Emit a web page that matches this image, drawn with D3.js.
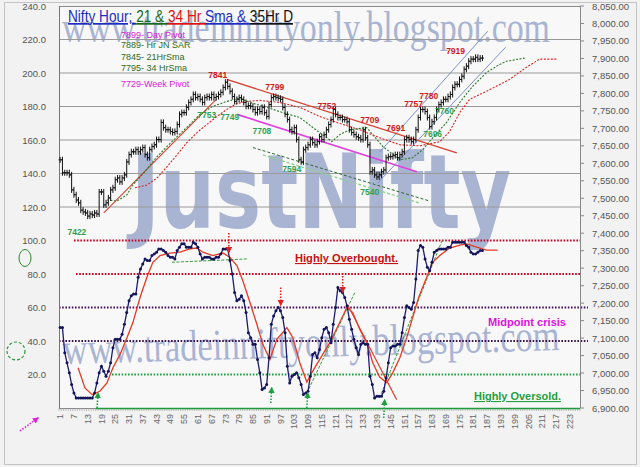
<!DOCTYPE html>
<html>
<head>
<meta charset="utf-8">
<style>
  body { margin: 0; background: #fff; }
  text { font-family: Arial, "Liberation Sans", sans-serif; }
</style>
</head>
<body>
<svg width="640" height="467"></svg>
<script src="https://d3js.org/d3.v7.min.js"></script>
<script>

// hourly closes, bar 1..185
var closes = [
  7610,7573,7573,7573,7567,7524,7510,7495,7487,7466,7461,7458,7449,7455,7452,7458,7455,7518,7518,7481,
  7487,7501,7524,7530,7553,7558,7547,7558,7567,7604,7625,7633,7633,7639,7633,7639,7645,7625,7616,7639,
  7648,7653,7668,7668,
  7717,7702,7696,7696,7691,7688,7691,7711,7740,7745,7745,7760,7774,7783,7797,7788,7791,7783,7774,7788,
  7791,7788,7797,7788,7791,7797,7803,7817,7832,7820,7806,7791,7777,7783,7788,7783,7774,7763,7765,7763,
  7754,7745,7754,7748,
  7760,7745,7734,7768,7788,7791,7788,7786,7783,7760,7740,7725,7696,7691,7702,7668,7610,7604,7639,7645,
  7653,7668,7659,7653,7662,7676,7668,7682,7696,7711,7725,7754,7740,7731,7731,7725,7725,7719,7696,7688,
  7682,7676,7673,7668,
  7696,7673,7653,7576,7581,7567,7561,7567,7576,7581,7616,7619,7619,7622,7625,7616,7625,7633,7668,7673,
  7668,7662,7668,7696,7731,7754,7754,7748,7731,7705,7719,7731,7754,7768,
  7774,7783,7783,7791,7797,7817,7826,7826,7840,7849,7869,7878,7892,7898,7898,7903,7898,7901,7901
];

// 21 hr sma (shifted) and 34 hr sma, [bar, price]
var sma21 = [
  [21.4,7495],[25.8,7492],[30.1,7510],[32.7,7538],[37.9,7576],[43.2,7619],[47.5,7648],[51.9,7676],
  [57.5,7711],[61.9,7740],[67.5,7763],[73.6,7777],[79.2,7786],[83.7,7774],[91.1,7760],[98,7745],
  [105.4,7731],[112.4,7696],[119.4,7662],[122.8,7682],[127.2,7696],[134.6,7702],[141.6,7648],
  [149,7610],[154.6,7616],[159,7639],[163.3,7673],[169.4,7717],[175.1,7774],[180.7,7820],
  [186.8,7860],[192.5,7883],[195.5,7892],[203.4,7901]
];
var sma34 = [
  [33.6,7530],[38.8,7538],[43.2,7558],[47.5,7590],[51.9,7624],[56.2,7659],[60.6,7688],[64.9,7711],
  [69.3,7734],[73.6,7754],[78,7771],[82.3,7777],[88,7780],[96.7,7774],[105.4,7760],[114.1,7734],
  [122.8,7714],[131.5,7696],[140.2,7673],[149,7653],[157.7,7650],[166.4,7662],[170.7,7691],
  [175.1,7745],[179.4,7783],[186.8,7806],[196.8,7840],[204.2,7875],[209.9,7898],[217.3,7898]
];

// oscillator (left axis) [bar, value]
var osc = [
  [1,48],[2,48],[3,33],[4,27],[5,21],[6,14],[7,9],[8,6],[9,6],[10,6],[11,6],[12,6],[13,6],[14,6],[15,6],
  [16,9],[17,15],[18,21],[19,25],[20,22],[21,19],[22,22],[23,27],[24,36],[25,41],[26,41],[27,41],[28,44],
  [29,50],[30,57],[31,64],[32,67],[33,68],[34,68],[35,78],[36,83],[37,86],[38,89],[39,88],[40,88],
  [41,91],[42,92],[43,93],[44,95],[45,95],[46,94],[47,93],[48,91],[49,90],[50,90],[51,89],[52,94],
  [53,96],[54,98],[55,98],[56,96],[57,96],[58,96],[59,99],[60,98],[61,96],[62,92],[63,89],[64,90],
  [65,90],[66,90],[67,89],[68,89],[69,90],[70,90],[71,92],[72,95],[73,95],[74,95],[75,88],[76,80],
  [77,69],[78,64],[79,65],[80,67],[81,64],[82,57],[83,45],[84,42],[85,38],[86,38],[87,29],[88,21],
  [89,11],[90,12],[91,14],[92,30],[93,50],[94,55],[95,58],[96,60],[97,58],[98,54],[99,45],[100,25],
  [101,15],[102,19],[103,20],[104,21],[105,18],[106,14],[107,8],[108,9],[109,10],[110,19],[111,32],
  [112,33],[113,30],[114,35],[115,42],[116,47],[117,48],[118,45],[119,39],[120,50],[121,60],[122,72],
  [123,70],[124,69],[125,66],[126,61],[127,53],[128,47],[129,41],[130,36],[131,32],[132,38],[133,39],
  [134,38],[135,38],[136,19],[137,14],[138,6],[139,7],[140,7],[141,7],[142,10],[143,18],[144,27],
  [145,36],[146,37],[147,37],[148,38],[149,38],[150,45],[151,54],[152,61],[153,60],[154,59],[155,63],
  [156,77],[157,94],[158,97],[159,96],[160,89],[161,84],[162,82],[163,87],[164,93],[165,94],[166,95],
  [167,95],[168,95],[169,95],[170,96],[171,96],[172,99],[173,99],[174,99],[175,99],[176,99],[177,99],
  [178,97],[179,96],[180,93],[181,92],[182,92],[183,93],[184,94],[185,94]
];
var oscSmooth = [
  [8.8,24],[11.8,12],[14.9,8],[18.3,10],[21.4,15],[24,24],[27.1,32],[30.1,42],[32.7,51],[35.8,66],
  [38.8,78],[41.4,87],[44.5,91],[48.8,92.5],[53.2,93],[57.5,95],[60.6,95.5],[63.2,93],[67.5,91],
  [71.9,92.5],[74.9,90],[78,85],[80.6,76],[83.7,63],[86.7,50],[89.3,38],[92.4,29],[95.4,41],[99.8,48],
  [102.4,42],[105.4,27],[108.5,15.5],[110.6,21],[114.1,29],[118.5,39],[122.8,51],[125.9,60],[128.5,57],
  [131.5,47],[134.6,39],[137.2,27],[140.2,18.5],[143.3,15],[145.9,21],[149,30],[152,42],[154.6,54],
  [157.2,66],[160.7,78],[163.3,87],[166.4,91],[170.7,95.5],[175.1,97.3],[178.1,98],[182.5,96],
  [186.8,94.3],[191.6,94.3]
];

// drawn trend lines, price pane [bar, price]
var trendRise = [[20,7458],[69,7783]];
var trendFall = [[73.6,7840],[173.8,7630]];
var weekPivotLine = [[78,7740],[156.4,7576]];
var greenChanA = [[85,7645],[162,7492]];
var greenChanB = [[89.3,7624],[157.7,7486]];
var blueChanA = [[140.3,7633],[187.3,7978]];
var blueChanB = [[139.4,7544],[195.1,7932]];

// drawn lines, oscillator pane [bar, value]
var oscFlat = [[49.7,87],[82.3,89]];
var oscRiseA = [[108.5,9],[129.4,69]];
var oscRiseB = [[140.2,6],[167.7,101]];
var oscFall = [[126.3,61.5],[147.6,5]];

var highLabels = [["7841",69.7,7843],["7799",94.5,7811],["7752",117.2,7754],["7709",135.9,7716],
  ["7691",147.2,7691],["7757",155,7762],["7780",161.6,7783],["7919",173.3,7912]];
var lowLabels = [["7422",8.3,7394],["7753",64.9,7731],["7749",74.9,7725],["7708",88.9,7685],
  ["7594",101.9,7576],["7540",135.9,7510],["7696",163.3,7676],["7760",168.5,7740]];

var downArrows = [[74.5,104.5,93],[97.1,72,61.5],[124.1,80.6,69.3]];
var upArrows = [[17.5,0,9],[93.2,3,12],[108.9,0,9],[142.4,-6,4.8]];

var levels = [100, 80, 60, 40, 20];
var leftTicks = [20,40,60,80,100,120,140,160,180,200,220,240];
var gridTicks = [120,140,160,180,200,220];
var rightTicks = [6900,6950,7000,7050,7100,7150,7200,7250,7300,7350,7400,7450,7500,7550,7600,
  7650,7700,7750,7800,7850,7900,7950,8000,8050];
var xTicks = [1,7,13,19,25,31,37,43,49,55,61,67,73,79,85,91,97,103,109,115,121,127,133,139,145,
  151,157,163,169,175,181,187,193,199,205,211,217,223];

var svg = d3.select("svg");

var x = d3.scaleLinear().domain([0.5, 227.5]).range([59, 580]);
var yL = d3.scaleLinear().domain([0, 240]).range([408, 6]);
var yR = d3.scaleLinear().domain([6900, 8050]).range([408, 6]);

// background
svg.append("rect").attr("width", 640).attr("height", 467).attr("fill", "#f2f2f2");
svg.append("rect").attr("x", 4.5).attr("y", 2.5).attr("width", 632).attr("height", 462)
    .attr("fill", "none").attr("stroke", "#c4c4c4");
svg.append("rect").attr("x", 59).attr("y", 6).attr("width", 521).attr("height", 402).attr("fill", "#f8f8f8");

// watermarks
svg.append("text").attr("x", 62).attr("y", 42)
    .style("font-family", "'Liberation Serif', 'DejaVu Serif', serif")
    .attr("font-size", 44).attr("fill", "#a9b4d2")
    .attr("textLength", 488).attr("lengthAdjust", "spacingAndGlyphs")
    .text("www.tradeinniftyonly.blogspot.com");
svg.append("text").attr("x", 131).attr("y", 228)
    .style("font-family", "'DejaVu Sans', sans-serif")
    .attr("font-size", 104).attr("font-weight", "bold").attr("fill", "#a9b4d2")
    .attr("textLength", 380).attr("lengthAdjust", "spacingAndGlyphs")
    .text("JustNifty");
svg.append("text").attr("transform", "translate(63,364) rotate(-1.6)")
    .style("font-family", "'Liberation Serif', 'DejaVu Serif', serif")
    .attr("font-size", 44).attr("fill", "#a9b4d2")
    .attr("textLength", 497).attr("lengthAdjust", "spacingAndGlyphs")
    .text("www.tradeinniftyonly.blogspot.com");

// gridlines
svg.append("g").selectAll("line").data(gridTicks).join("line")
    .attr("x1", 59).attr("x2", 580)
    .attr("y1", function(d) { return yL(d); }).attr("y2", function(d) { return yL(d); })
    .attr("stroke", "#9a9a9a").attr("stroke-width", 1);
svg.append("line").attr("x1", 59).attr("x2", 580).attr("y1", 6.5).attr("y2", 6.5).attr("stroke", "#8a8a8a");

// oscillator level lines
var levelStyle = {
  100: {c: "#c8001a", x1: 74, x2: 580},
  80:  {c: "#c8001a", x1: 76, x2: 580},
  60:  {c: "#4a1060", x1: 59, x2: 588},
  40:  {c: "#3a1050", x1: 59, x2: 588},
  20:  {c: "#22a040", x1: 112, x2: 580}
};
svg.append("g").selectAll("line").data(levels).join("line")
    .attr("x1", function(d) { return levelStyle[d].x1; })
    .attr("x2", function(d) { return levelStyle[d].x2; })
    .attr("y1", function(d) { return yL(d); }).attr("y2", function(d) { return yL(d); })
    .attr("stroke", function(d) { return levelStyle[d].c; })
    .attr("stroke-width", 1.8).attr("stroke-dasharray", "1.6,1.6");

// axes
svg.append("line").attr("x1", 59.5).attr("x2", 59.5).attr("y1", 6).attr("y2", 408).attr("stroke", "#777");
svg.append("line").attr("x1", 580.5).attr("x2", 580.5).attr("y1", 6).attr("y2", 408).attr("stroke", "#888");

svg.append("g").selectAll("text").data(leftTicks).join("text")
    .attr("x", 46).attr("y", function(d) { return yL(d) + 3.5; })
    .attr("text-anchor", "end").attr("font-size", 9.5).attr("fill", "#555")
    .text(function(d) { return d3.format(".1f")(d); });

var rAxis = svg.append("g");
rAxis.selectAll("line").data(rightTicks).join("line")
    .attr("x1", 580).attr("x2", 584)
    .attr("y1", function(d) { return yR(d); }).attr("y2", function(d) { return yR(d); })
    .attr("stroke", "#888");
rAxis.selectAll("text").data(rightTicks).join("text")
    .attr("x", 592).attr("y", function(d) { return yR(d) + 3.5; })
    .attr("font-size", 9.5).attr("fill", "#555")
    .text(function(d) { return d3.format(",.2f")(d); });

// x axis: ticks every bar, label every 6
svg.append("line").attr("x1", 59).attr("x2", 580).attr("y1", 408.5).attr("y2", 408.5).attr("stroke", "#888");
svg.append("g").selectAll("line").data(d3.range(0.5, 228, 1)).join("line")
    .attr("x1", function(d) { return x(d); }).attr("x2", function(d) { return x(d); })
    .attr("y1", 408).attr("y2", 411).attr("stroke", "#999").attr("stroke-width", 0.6);
svg.append("line").attr("x1", x(16.5)).attr("x2", 580).attr("y1", 408.5).attr("y2", 408.5)
    .attr("stroke", "#1e9a3a").attr("stroke-width", 1.6);
svg.append("g").selectAll("text").data(xTicks).join("text")
    .attr("transform", function(d) { return "translate(" + x(d) + ",414) rotate(-90)"; })
    .attr("dy", "0.35em").attr("text-anchor", "end")
    .attr("font-size", 9).attr("fill", "#666")
    .text(function(d) { return d; });

// trend lines, price pane
var pline = d3.line().x(function(d) { return x(d[0]); }).y(function(d) { return yR(d[1]); });
var oline = d3.line().x(function(d) { return x(d[0]); }).y(function(d) { return yL(d[1]); });

function draw(gen, data, color, width, dash) {
  svg.append("path").datum(data).attr("d", gen)
      .attr("fill", "none").attr("stroke", color).attr("stroke-width", width)
      .attr("stroke-dasharray", dash || null);
}

draw(pline, greenChanA, "#2d6a2d", 1, "3,2");
draw(pline, greenChanB, "#8fd08f", 1.4, "3,2");
draw(pline, weekPivotLine, "#e040e0", 1.6);
draw(pline, blueChanA, "#7a90c8", 1);
draw(pline, blueChanB, "#7a90c8", 1);
draw(pline, trendRise, "#d84030", 1.1);
draw(pline, trendFall, "#d84030", 1.3);
draw(pline, sma34, "#e02020", 1.1, "2,1.5");
draw(pline, sma21, "#2a7a2a", 1.1, "2,1.5");

// price bars (open = previous close)
var bars = svg.append("g").attr("stroke", "#111").attr("stroke-width", 1);
bars.selectAll("g").data(closes).join("g").each(function(c, i) {
  var o = i ? closes[i - 1] : c;
  var cx = x(i + 1);
  var s = d3.select(this);
  s.append("line").attr("x1", cx).attr("x2", cx)
      .attr("y1", yR(Math.max(o, c)) - 3).attr("y2", yR(Math.min(o, c)) + 3);
  s.append("line").attr("x1", cx - 1.6).attr("x2", cx).attr("y1", yR(o)).attr("y2", yR(o));
  s.append("line").attr("x1", cx).attr("x2", cx + 1.6).attr("y1", yR(c)).attr("y2", yR(c));
});

// price labels
svg.append("g").selectAll("text").data(highLabels).join("text")
    .attr("x", function(d) { return x(d[1]); }).attr("y", function(d) { return yR(d[2]); })
    .attr("text-anchor", "middle").attr("font-size", 8.5).attr("font-weight", "bold")
    .attr("fill", "#d01818").text(function(d) { return d[0]; });
svg.append("g").selectAll("text").data(lowLabels).join("text")
    .attr("x", function(d) { return x(d[1]); }).attr("y", function(d) { return yR(d[2]); })
    .attr("text-anchor", "middle").attr("font-size", 8.5).attr("font-weight", "bold")
    .attr("fill", "#30a050").text(function(d) { return d[0]; });

// oscillator pane lines
draw(oline, oscFlat, "#3a9a3a", 1, "3,1.5");
draw(oline, oscRiseA, "#3a9a3a", 1, "3,1.5");
draw(oline, oscRiseB, "#3a9a3a", 1, "3,1.5");
draw(oline, oscFall, "#e03a2a", 1.1);
draw(oline, oscSmooth, "#e63a24", 1.3);
draw(oline, osc, "#1b1b70", 1.3);
svg.append("g").selectAll("circle").data(osc).join("circle")
    .attr("cx", function(d) { return x(d[0]); }).attr("cy", function(d) { return yL(d[1]); })
    .attr("r", 1.5).attr("fill", "#14145a");

// arrows
var defs = svg.append("defs");
[["ahRed", "#e02020"], ["ahGreen", "#20a040"], ["ahMag", "#e020e0"]].forEach(function(a) {
  defs.append("marker").attr("id", a[0]).attr("viewBox", "0 0 10 10").attr("refX", 8).attr("refY", 5)
      .attr("markerWidth", 4).attr("markerHeight", 4).attr("orient", "auto")
    .append("path").attr("d", "M0,0L10,5L0,10z").attr("fill", a[1]);
});
svg.append("g").selectAll("line").data(downArrows).join("line")
    .attr("x1", function(d) { return x(d[0]); }).attr("x2", function(d) { return x(d[0]); })
    .attr("y1", function(d) { return yL(d[1]); }).attr("y2", function(d) { return yL(d[2]); })
    .attr("stroke", "#e02020").attr("stroke-width", 1.6).attr("stroke-dasharray", "1.5,1.5")
    .attr("marker-end", "url(#ahRed)");
svg.append("g").selectAll("line").data(upArrows).join("line")
    .attr("x1", function(d) { return x(d[0]) - 1; }).attr("x2", function(d) { return x(d[0]); })
    .attr("y1", function(d) { return yL(d[1]); }).attr("y2", function(d) { return yL(d[2]); })
    .attr("stroke", "#20a040").attr("stroke-width", 1.6).attr("stroke-dasharray", "1.5,1.5")
    .attr("marker-end", "url(#ahGreen)");
svg.append("line").attr("x1", 20).attr("y1", 431).attr("x2", 38).attr("y2", 418)
    .attr("stroke", "#e020e0").attr("stroke-width", 1.6).attr("stroke-dasharray", "1.5,1.5")
    .attr("marker-end", "url(#ahMag)");

// circles at left
svg.append("ellipse").attr("cx", 25).attr("cy", 258).attr("rx", 6).attr("ry", 8.5)
    .attr("fill", "none").attr("stroke", "#2a8a2a").attr("stroke-width", 1);
svg.append("circle").attr("cx", 16).attr("cy", 351).attr("r", 9)
    .attr("fill", "none").attr("stroke", "#2a9a3a").attr("stroke-width", 1.2).attr("stroke-dasharray", "3,2");

// title
var title = svg.append("text").attr("x", 68).attr("y", 22).attr("font-size", 17)
    .attr("textLength", 225).attr("lengthAdjust", "spacingAndGlyphs");
[["Nifty Hour; ", "#1c2cc0"], ["21 & ", "#1a6a1a"], ["34 Hr ", "#e01010"], ["Sma & ", "#1c2cc0"], ["35Hr D", "#111"]]
  .forEach(function(t) {
    title.append("tspan").attr("fill", t[1]).style("text-decoration", "underline").text(t[0]);
  });

// pivot notes
var notes = [["7899- Day Pivot", "#d81ad8", 38], ["7889- Hr JN SAR", "#2f6a24", 48],
  ["7845- 21HrSma", "#2f6a24", 60], ["7795- 34 HrSma", "#2f6a24", 71], ["7729-Week Pivot", "#d81ad8", 87]];
svg.append("g").selectAll("text").data(notes).join("text")
    .attr("x", 121).attr("y", function(d) { return d[2]; })
    .attr("font-size", 9).attr("fill", function(d) { return d[1]; })
    .text(function(d) { return d[0]; });

// zone captions
svg.append("text").attr("x", 295).attr("y", 262).attr("font-size", 11).attr("font-weight", "bold")
    .attr("fill", "#c81010").style("text-decoration", "underline")
    .attr("textLength", 103).attr("lengthAdjust", "spacingAndGlyphs").text("Highly Overbought.");
svg.append("text").attr("x", 488).attr("y", 326).attr("font-size", 11).attr("font-weight", "bold")
    .attr("fill", "#e010e0")
    .attr("textLength", 78).attr("lengthAdjust", "spacingAndGlyphs").text("Midpoint crisis");
svg.append("text").attr("x", 474).attr("y", 400).attr("font-size", 11).attr("font-weight", "bold")
    .attr("fill", "#24a040").style("text-decoration", "underline")
    .attr("textLength", 87).attr("lengthAdjust", "spacingAndGlyphs").text("Highly Oversold.");

</script>
</body>
</html>
